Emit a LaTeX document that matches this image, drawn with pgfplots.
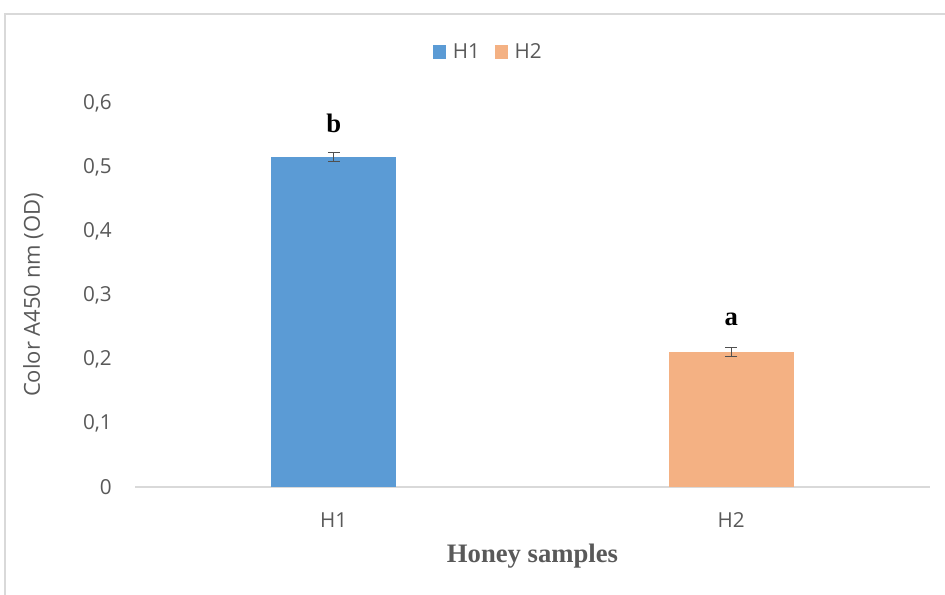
\documentclass[border=0pt]{standalone}
\usepackage{fontspec}
\usepackage{pgfplots}
\pgfplotsset{compat=1.18}
\setmainfont{Open Sans}
\newfontfamily\tnr{Liberation Serif}
\definecolor{barblue}{HTML}{5B9BD5}
\definecolor{barorange}{HTML}{F4B183}
\definecolor{txtgray}{HTML}{595959}
\definecolor{linegray}{HTML}{D9D9D9}
\definecolor{errgray}{HTML}{505050}
\begin{document}
\begin{tikzpicture}
\path[use as bounding box] (0pt,0pt) rectangle (708.75pt,446.25pt);
\draw[linegray, line width=1.1pt] (3.75pt,0pt) -- (3.75pt,435.75pt) -- (708.75pt,435.75pt);
\begin{axis}[
  at={(101.25pt,81pt)}, anchor=south west,
  scale only axis, width=596.25pt, height=288pt,
  ybar, bar width=93.75pt, bar shift=0pt,
  xmin=-0.5, xmax=1.5, ymin=0, ymax=0.6,
  xtick={0,1}, xticklabels={H1,H2},
  ytick={0,0.1,0.2,0.3,0.4,0.5,0.6},
  axis x line=bottom, axis y line=left,
  y axis line style={draw=none},
  x axis line style={linegray, line width=0.9pt, -},
  major tick length=0pt, tick style={draw=none},
  /pgf/number format/assume math mode=true,
  /pgf/number format/.cd, use comma, fixed, fixed zerofill, precision=1, /pgfplots/.cd,
  yticklabel={\ifdim\tick pt=0pt 0\else\pgfmathprintnumber{\tick}\fi},
  tick label style={font=\fontsize{15.5}{18}\selectfont, text=txtgray},
  yticklabel style={inner sep=0pt, xshift=-17.25pt},
  xticklabel style={inner sep=0pt, yshift=-19pt},
  ylabel={Color A450 nm (OD)},
  ylabel style={at={(axis description cs:-0.128,0.5)}, anchor=center, font=\fontsize{16.5}{19}\selectfont, text=txtgray},
  xlabel={Honey samples},
  xlabel style={at={(axis description cs:0.5,-0.181)}, anchor=center, font=\tnr\bfseries\fontsize{20}{24}\selectfont, text=txtgray},
  legend style={at={(axis description cs:0.4447,1.133)}, anchor=center, draw=none, fill=none,
    legend columns=-1, font=\fontsize{15.5}{18}\selectfont, text=txtgray,
    /tikz/every even column/.append style={column sep=9pt},
    /tikz/every odd column/.append style={column sep=3pt}},
  legend image code/.code={\fill[#1, draw=none] (0pt,-5pt) rectangle (10pt,5pt);},
  nodes near coords,
  point meta=explicit symbolic,
  every node near coord/.style={font=\tnr\bfseries\fontsize{20}{24}\selectfont, text=black, anchor=center, yshift=24.75pt},
  error bars/error bar style={errgray, line width=1pt},
  error bars/error mark options={rotate=90, mark size=4.5pt, line width=1pt, errgray},
]
\addplot[fill=barblue, draw=none, error bars/.cd, y dir=both, y explicit]
  coordinates {(0,0.516) +- (0,0.007) [b]};
\addlegendentry{H1}
\addplot[fill=barorange, draw=none, error bars/.cd, y dir=both, y explicit]
  coordinates {(1,0.211) +- (0,0.007) [a]};
\addlegendentry{H2}
\end{axis}
\end{tikzpicture}
\end{document}
